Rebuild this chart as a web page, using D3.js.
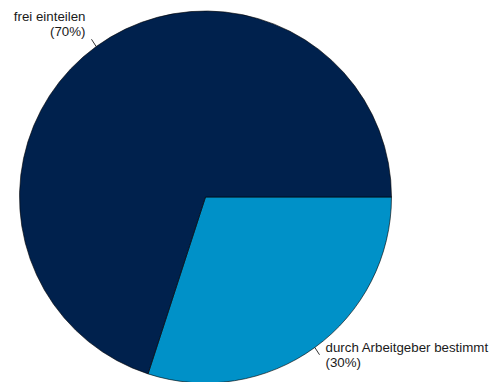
<!DOCTYPE html>
<html lang="de">
<head>
    <meta charset="UTF-8">
    <title>Arbeitszeit</title>
    <script src="https://d3js.org/d3.v7.min.js"></script>
    <style>
        body {
            margin: 0;
            background-color: #ffffff;
            font-family: 'Liberation Sans', Arial, sans-serif;
        }
        .label {
            font-size: 13.3px;
            fill: #1a1a1a;
        }
    </style>
</head>
<body>
    <svg id="chart"></svg>

    <script>
        const categories = ["durch Arbeitgeber bestimmt", "frei einteilen"];
        const shares = [30, 70];
        const colors = ["#0091c8", "#00214d"];

        const width = 490;
        const height = 382;
        const cx = 205.5, cy = 197, radius = 186;

        const svg = d3.select("#chart")
            .attr("width", width)
            .attr("height", height);

        const g = svg.append("g")
            .attr("transform", `translate(${cx},${cy})`);

        const pie = d3.pie()
            .sort(null)
            .startAngle(Math.PI / 2)
            .endAngle(Math.PI / 2 + 2 * Math.PI)
            .value(d => d);

        const arcs = pie(shares);

        const arc = d3.arc().innerRadius(0).outerRadius(radius);

        g.selectAll("path")
            .data(arcs)
            .enter().append("path")
            .attr("d", arc)
            .attr("fill", (d, i) => colors[i])
            .attr("stroke", "#000")
            .attr("stroke-width", 0.6);

        // leader lines and labels
        arcs.forEach((d, i) => {
            const mid = (d.startAngle + d.endAngle) / 2;
            const sx = Math.sin(mid), sy = -Math.cos(mid);
            const x0 = sx * radius, y0 = sy * radius;
            const x1 = sx * (radius + 8), y1 = sy * (radius + 9);

            g.append("line")
                .attr("x1", x0).attr("y1", y0)
                .attr("x2", x1).attr("y2", y1)
                .attr("stroke", "#000")
                .attr("stroke-width", 0.8);

            const right = sx > 0;
            const lines = [categories[i], `(${shares[i]}%)`];
            const firstY = sy < 0 ? y1 - 3 - 15 * (lines.length - 1) : y1 - 3;

            const t = g.append("text")
                .attr("class", "label")
                .attr("text-anchor", right ? "start" : "end");
            lines.forEach((s, k) => {
                t.append("tspan")
                    .attr("x", right ? x1 + 6 : x1 - 6)
                    .attr("y", firstY + 15 * k)
                    .text(s);
            });
        });
    </script>
</body>
</html>
